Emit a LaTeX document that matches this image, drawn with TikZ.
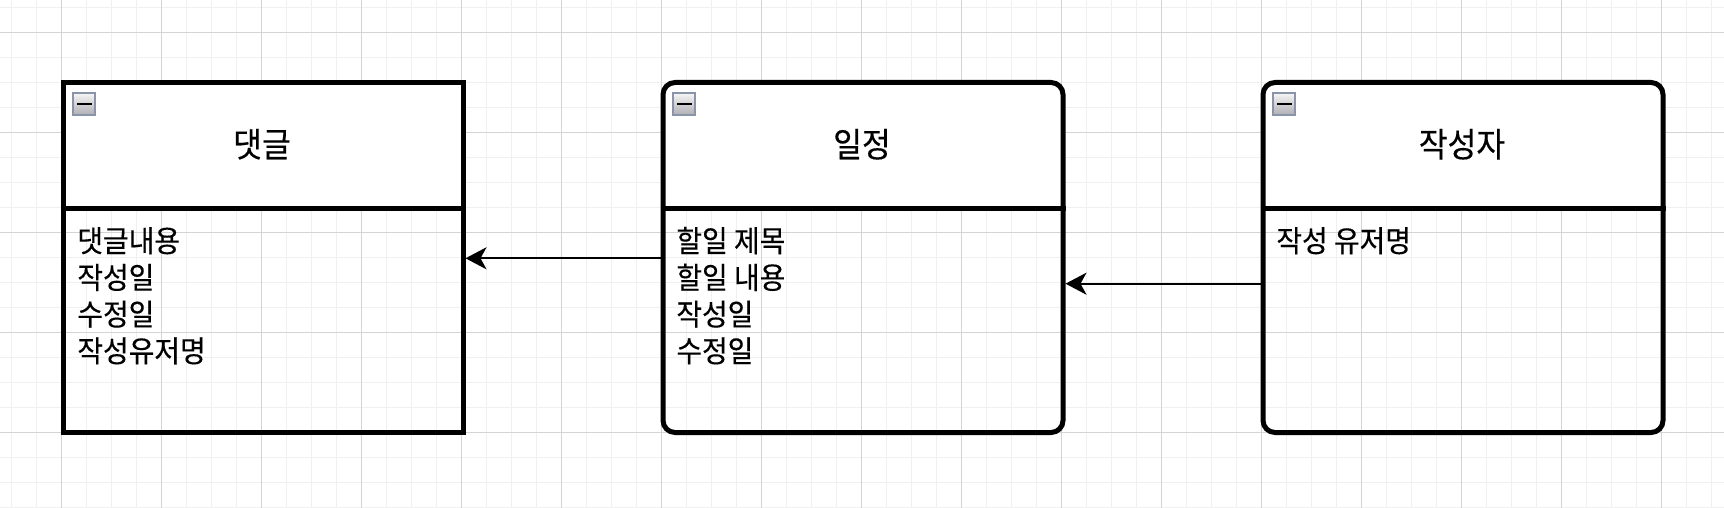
\documentclass[tikz,border=0pt]{standalone}
\usepackage{fontspec}
\newfontfamily\krfont[FakeStretch=0.93,FakeBold=0.3]{Noto Sans CJK KR}
\newfontfamily\krtitle[FakeStretch=0.92,FakeBold=0.3]{Noto Sans CJK KR}
\usetikzlibrary{arrows.meta}
\definecolor{minorgrid}{RGB}{240,240,240}
\definecolor{majorgrid}{RGB}{212,212,212}
\definecolor{iconborder}{RGB}{138,148,168}
\definecolor{icontop}{RGB}{245,245,245}
\definecolor{iconbot}{RGB}{175,175,180}
\begin{document}
\begin{tikzpicture}[x=0.5pt,y=-0.5pt,
  minorline/.style={draw=minorgrid, line width=0.5pt},
  majorline/.style={draw=majorgrid, line width=0.5pt},
  entity/.style={draw=black, line width=2.5pt, minimum width=200pt, minimum height=175pt, inner sep=0pt},
  roundentity/.style={entity, rounded corners=6pt},
  divider/.style={draw=black, line width=2.5pt},
  icon/.style={draw=iconborder, line width=1pt, top color=icontop, bottom color=iconbot, minimum size=11pt, inner sep=0pt, outer sep=0pt},
  iconbar/.style={draw=black, line width=1.2pt},
  title/.style={font=\krtitle\fontsize{17pt}{20pt}\selectfont, anchor=base, inner sep=0pt},
  item/.style={font=\krfont\fontsize{15pt}{18pt}\selectfont, anchor=base west, inner sep=0pt},
  conn/.style={draw=black, line width=1pt, -{Stealth[length=10.5pt, width=11pt, inset=3pt]}}
]
\useasboundingbox (0,0) rectangle (1724,508);
\fill[white] (0,0) rectangle (1724,508);
% grid
\foreach \i in {0,...,68} \draw[minorline] ({11.7+25*\i},0) -- ({11.7+25*\i},508);
\foreach \i in {0,...,20} \draw[minorline] (0,{7.3+25*\i}) -- (1724,{7.3+25*\i});
\foreach \i in {0,...,16} \draw[majorline] ({61.7+100*\i},0) -- ({61.7+100*\i},508);
\foreach \i in {0,...,4} \draw[majorline] (0,{32.3+100*\i}) -- (1724,{32.3+100*\i});
% header fills
\fill[white] (63,82.5) rectangle (463,208.5);
\begin{scope}
  \clip (663,82.5) rectangle (1063,208.5);
  \fill[white, rounded corners=6pt] (663,82.5) rectangle (1063,432.5);
\end{scope}
\begin{scope}
  \clip (1263,82.5) rectangle (1663,208.5);
  \fill[white, rounded corners=6pt] (1263,82.5) rectangle (1663,432.5);
\end{scope}
% boxes
\node[entity] (cmt) at (263,257.5) {};
\node[roundentity] (sched) at (863,257.5) {};
\node[roundentity] (author) at (1463,257.5) {};
\coordinate (dv) at (0,208.5);
\draw[divider] (cmt.west |- dv) -- (cmt.east |- dv);
\draw[divider] (sched.west |- dv) -- (sched.east |- dv);
\draw[divider] (author.west |- dv) -- (author.east |- dv);
% collapse icons
\node[icon] (ic1) at (84,104) {};
\node[icon] (ic2) at (684,104) {};
\node[icon] (ic3) at (1284,104) {};
\foreach \n in {ic1,ic2,ic3}
  \draw[iconbar] ([xshift=2pt]\n.west) -- ([xshift=-1.5pt]\n.east);
% titles
\node[title] (t1) at (262,157) {댓글};
\node[title] (t2) at (862,157) {일정};
\node[title] (t3) at (1462,157) {작성자};
% items
\node[item] (c1) at (77,252) {댓글내용};
\node[item] (c2) at (77,288.7) {작성일};
\node[item] (c3) at (77,325.4) {수정일};
\node[item] (c4) at (77,362.1) {작성유저명};
\node[item] (s1) at (676,252) {할일 제목};
\node[item] (s2) at (676,288.7) {할일 내용};
\node[item] (s3) at (676,325.4) {작성일};
\node[item] (s4) at (676,362.1) {수정일};
\node[item] (a1) at (1276,252) {작성 유저명};
% connectors
\coordinate (ya) at (0,258.3);
\coordinate (yb) at (0,283.7);
\draw[conn] (sched.west |- ya) -- (cmt.east |- ya);
\draw[conn] (author.west |- yb) -- (sched.east |- yb);
\end{tikzpicture}
\end{document}
